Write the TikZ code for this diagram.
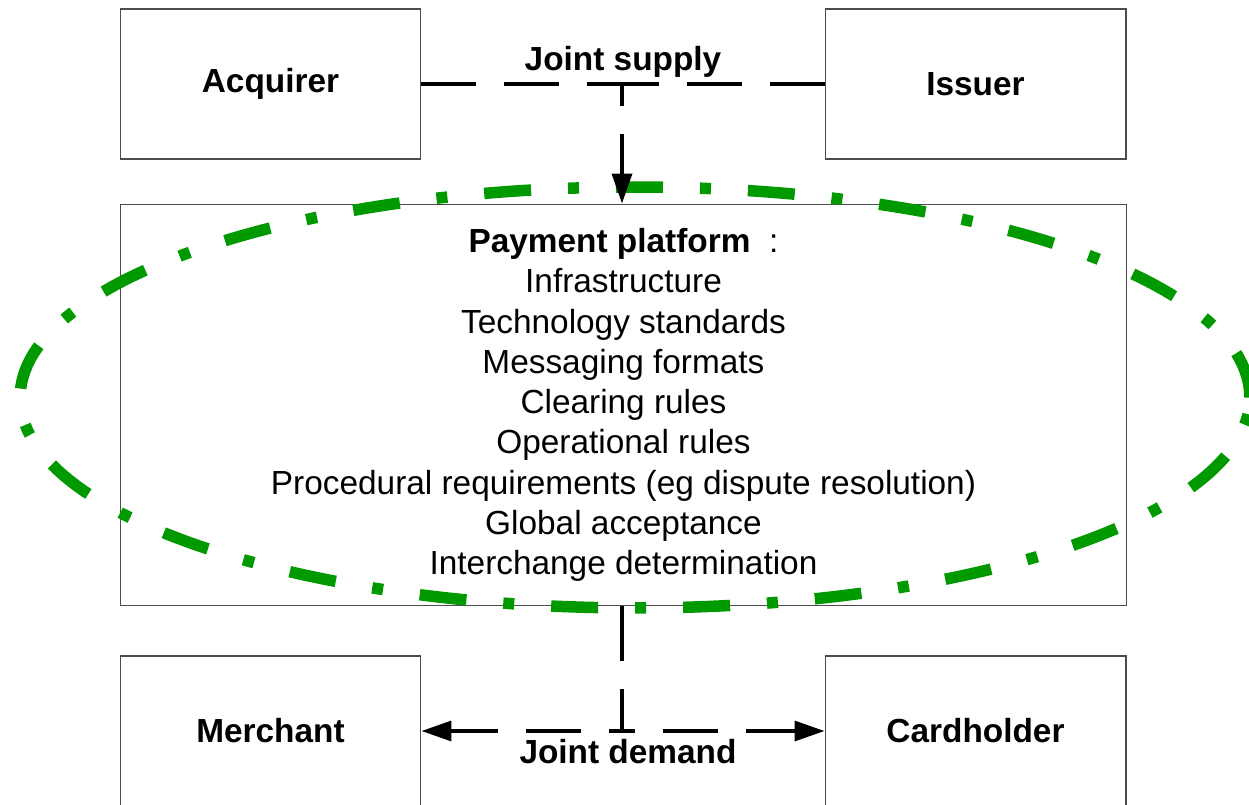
\documentclass[tikz,border=0pt]{standalone}
\usepackage{fontspec}
\setmainfont{Liberation Sans}
\usetikzlibrary{arrows.meta}
\definecolor{ringgreen}{RGB}{0,153,0}

\tikzset{
    box/.style={draw=gray!60!black, line width=0.6pt, minimum width=6.02cm, minimum height=3cm, font=\fontsize{19}{23}\selectfont\bfseries},
    lbl/.style={font=\fontsize{19}{23}\selectfont\bfseries, inner sep=0pt},
    dashline/.style={line width=2pt, dash pattern=on 1.1cm off 0.56cm},
    tip/.style={-{Triangle[length=0.6cm, width=0.4cm]}},
    ring/.style={ringgreen, line width=0.23cm, dash pattern=on 0.94cm off 0.74cm on 0.22cm off 0.74cm}
}

\begin{document}
\begin{tikzpicture}[x=0.02cm, y=-0.02cm]

    \useasboundingbox (0, 0) rectangle (1249, 805);
    \clip (0, 0) rectangle (1249, 805);

    \begin{scope}
        \node[box] (acq) at (270.5, 84) {Acquirer};
        \node[box] (iss) at (975.5, 84) {Issuer};
        \node[box] (mer) at (270.5, 731) {Merchant};
        \node[box] (card) at (975.5, 731) {Cardholder};

        \node[box, minimum width=20.14cm, minimum height=8.04cm, align=center, font=\fontsize{19}{22.9}\selectfont] (plat) at (623.5, 405)
            {\textbf{Payment platform}~~:\\Infrastructure\\Technology standards\\Messaging formats\\Clearing rules\\Operational rules\\Procedural requirements (eg dispute resolution)\\Global acceptance\\Interchange determination};

        % \draw[red] (plat.center) circle (2mm);
        \draw[ring] (635, 397.5) ellipse [x radius=12.3cm, y radius=4.21cm];
    \end{scope}

    \coordinate (js) at (622, 84);
    \coordinate (jd) at (622, 731);

    \node[lbl, anchor=base] (supply) at (623, 70) {Joint supply};
    \node[lbl, anchor=base] (demand) at (628, 763) {Joint demand};

    \draw[dashline] (acq.east) -- (js);
    \draw[dashline] (iss.west) -- (js);
    \draw[dashline, dash phase=0.66cm, tip] (js) -- (plat.north -| js);

    \draw[dashline] (plat.south -| jd) -- (jd);
    \draw[dashline, dash phase=0.84cm, tip] (jd) -- (mer.east);
    \draw[dashline, dash phase=0.84cm, tip] (jd) -- (card.west);

\end{tikzpicture}
\end{document}
